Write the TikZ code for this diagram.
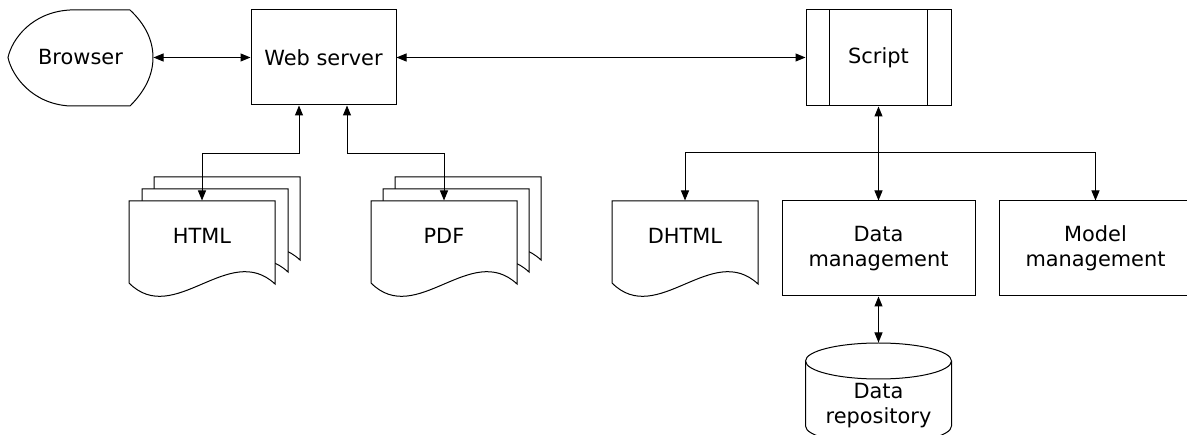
\documentclass[tikz,border=0pt]{standalone}
\usepackage{fontspec}
\setmainfont{DejaVu Sans}
\usetikzlibrary{arrows.meta}

% document symbol with a wavy bottom edge: #1 = left x, #2 = top y
\newcommand{\docpath}[2]{(#1,#2) -- (#1+146,#2) -- (#1+146,#2+83)
  .. controls (#1+100,#2+40) and (#1+45,#2+127) .. (#1,#2+82) -- cycle}

\begin{document}
\begin{tikzpicture}[x=1pt, y=-1pt, line width=1pt,
  every node/.style={font=\fontsize{20.9}{25}\selectfont, align=center, inner sep=0pt},
  area/.style 2 args={minimum width=#1pt, minimum height=#2pt},
  box/.style={draw, fill=white},
  outline/.style={draw, fill=white},
  link/.style={{Triangle[length=10pt,width=8pt]}-{Triangle[length=10pt,width=8pt]}},
  feed/.style={-{Triangle[length=10pt,width=8pt]}}]

\clip (0,0) rectangle (1187,435);

% browser (display symbol)
\path[outline] (70,10) -- (130,10) .. controls (145,24) and (153,40) .. (153,57.5)
  .. controls (153,75) and (145,91) .. (130,106) -- (70,106)
  .. controls (32,104) and (12,76) .. (8,57.5)
  .. controls (12,39) and (32,12) .. (70,10) -- cycle;
\node[area={145}{96}] (browser) at (80.5,57.5) {Browser};

% web server and script
\node[box, area={145}{95}] (web) at (323.5,57.5) {Web server};
\node[box, area={145}{96}] (script) at (878.5,58) {Script};
\draw ([xshift=24pt]script.north west) -- ([xshift=24pt]script.south west);
\draw ([xshift=-24pt]script.north east) -- ([xshift=-24pt]script.south east);

% stacked documents
\path[outline] \docpath{154}{177};
\path[outline] \docpath{142}{189};
\path[outline] \docpath{129}{201};
\node[area={146}{70}] (html) at (202,236) {HTML};

\path[outline] \docpath{395}{177};
\path[outline] \docpath{383}{189};
\path[outline] \docpath{371}{201};
\node[area={146}{70}] (pdf) at (444,236) {PDF};

% single document
\path[outline] \docpath{612}{201};
\node[area={146}{70}] (dhtml) at (685,236) {DHTML};

% management modules
\node[box, area={193}{95}] (data) at (878.5,248.5) {Data\\management};
\node[box, area={193}{95}] (model) at (1095.5,248.5) {Model\\management};

% data repository (cylinder)
\path[outline] (805.5,361) -- (805.5,426)
  arc[start angle=180, end angle=360, x radius=73pt, y radius=18pt] -- (951.5,361);
\draw (878.5,361) ellipse[x radius=73pt, y radius=18pt];
\node[area={146}{126}] (repo) at (878.5,406) {Data\\repository};

% connectors
\draw[link] (browser.east) -- (web.west);
\draw[link] (web.east) -- (web.east -| script.west);
\draw[link] ([xshift=-24.5pt]web.south) -- ++(0,48) -| (html.north);
\draw[link] ([xshift=23.5pt]web.south) -- ++(0,48) -| (pdf.north);
\draw[link] (script.south) -- (data.north);
\coordinate (split) at (878.5,153);
\draw[feed] (split) -| (dhtml.north);
\draw[feed] (split) -| (model.north);
\draw[link] (data.south) -- (repo.north);
\end{tikzpicture}
\end{document}
